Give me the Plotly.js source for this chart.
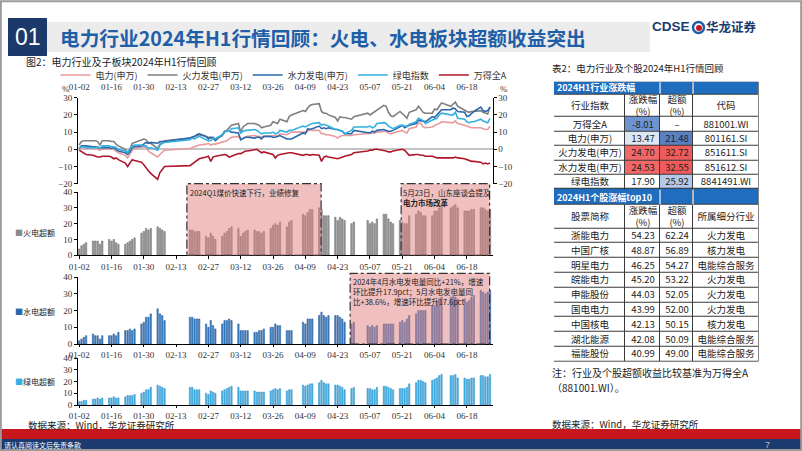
<!DOCTYPE html>
<html>
<head>
<meta charset="utf-8">
<script src="https://cdn.plot.ly/plotly-3.0.1.min.js"></script>
<style>
html,body{margin:0;padding:0;background:#fff;}
#plot{width:802px;height:451px;}
</style>
</head>
<body>
<div id="plot"></div>
<script>
// trading days, H1 2024
var dayStr = [
  '01-02','01-03','01-04','01-05','01-08','01-09','01-10','01-11','01-12',
  '01-15','01-16','01-17','01-18','01-19','01-22','01-23','01-24','01-25','01-26',
  '01-29','01-30','01-31','02-01','02-02','02-05','02-06','02-07','02-08',
  '02-19','02-20','02-21','02-22','02-23','02-26','02-27','02-28','02-29','03-01',
  '03-04','03-05','03-06','03-07','03-08','03-11','03-12','03-13','03-14','03-15',
  '03-18','03-19','03-20','03-21','03-22','03-25','03-26','03-27','03-28','03-29',
  '04-01','04-02','04-03','04-08','04-09','04-10','04-11','04-12',
  '04-15','04-16','04-17','04-18','04-19','04-22','04-23','04-24','04-25','04-26',
  '04-29','04-30','05-06','05-07','05-08','05-09','05-10',
  '05-13','05-14','05-15','05-16','05-17','05-20','05-21','05-22','05-23','05-24',
  '05-27','05-28','05-29','05-30','05-31','06-03','06-04','06-05','06-06','06-07',
  '06-11','06-12','06-13','06-14','06-17','06-18','06-19','06-20','06-21',
  '06-24','06-25','06-26','06-27','06-28'
];
var days = dayStr.map(function (s) { return '2024-' + s; });

// cumulative return, %
var power = [0.5,1,0.5,0.5, 0.5,0.5,0,-0.5,0, 0.5,0,0,-1,-2, -3.5,-5,-3,-0.5,0.5,
  1,1.5,1,-1,-2, -4.5,-3,-1.5,-0.5, 0.5,1,1.5,2,2.5, 3,3.5,2.5,3,3,
  4,4.5,5,6,7, 7.5,6,6.5,7,7.5, 8,7.5,7.5,7,7.5, 7.5,8,8,7.5,9,
  8.5,9.5,10, 10,10,10.5,11.5,11, 11,9,9,8.5,8.5, 7.5,6.5,7.5,8,8,
  8,8.5, 9,9,9.5,9.5,10, 10.5,10.5,9.5,9,9.5, 10.5,11,10,9.5,12,
  13,15.5,15,13,12.5, 13,14,14.5,15,16, 15.5,15.5,16.5,15, 14,13.5,13,12.5,12.5,
  12.5,12,11.5,11.5,13.47];
var thermal = [2.5,4.5,5,5, 5,5,4.5,2.5,5, 5,4.5,4.5,3,2, 0,-2,0,3.5,4,
  5.5,6,5.5,4,3.5, 0.5,3,4,5, 6.5,7,7.5,8,8.5, 7.5,7,6.5,7,6,
  8,10,11,12.5,14, 15,10,13,14,15, 15,14.5,14,12.5,13, 14,16,15.5,15,17.5,
  16,19,20, 22.5,22,24,25.5,26, 26.5,22,21,21,20, 18.5,16.5,19,18.5,18.5,
  17.5,19, 21,20,21,21.5,23, 25.5,25,21.5,19.5,19, 22,21,19.5,18,21.5,
  23,25,23.5,21.5,21, 21,23.5,23,25,27, 25,26,27.5,25, 22.5,22,21.5,22,22,
  22.5,21.5,21,20.5,24.7];
var hydro = [0.5,2,2,2, 1.5,1.5,1,0.5,1, 1,0.5,1,0,-1, -2,-3,-1.5,1,1.5,
  2,3,4,3.5,4, 3.5,4.5,4.5,4.5, 6.5,7,7.5,8.5,9, 7.5,6,7,6.5,5,
  8.5,10.5,10.5,10.5,10, 9.5,5.5,6.5,7,7, 6.5,7,7,6,7.5, 7.5,7,7,7.5,8,
  6,6,6, 9.5,9,12,11.5,12, 13.5,12,12.5,12,12.5, 11.5,11.5,11,10.5,9,
  9,11, 10,9.5,10.5,10,11, 11.5,11,10.5,10.5,11, 13,14,12.5,13.5,14,
  15,17,16.5,16.5,16, 19,18.5,20,22,23, 23,24,23.5,22, 21.5,19,19.5,21,22,
  24.5,22.5,22,22.5,24.53];
var green = [0.5,1.5,1.5,1, 1,1,1.5,0.5,2, 2,1.5,1.5,1,0, -1,-2,0,2,2.5,
  2.5,2,2,0.5,1, -0.5,2.5,3.5,4, 5.5,6.5,6,7,7.5, 5.5,5,5,6.5,6,
  8.5,10,10.5,10.5,12, 12.5,9.5,10.5,11,11, 11.5,11,10,9,9.5, 9.5,10,9,9.5,11,
  10,11,11, 13.5,13,14,14.5,15, 15.5,14,14.5,14,13.5, 11.5,11.5,11,10.5,9,
  11,13, 13,13.5,12.5,13,15, 15.5,15,13.5,12.5,12, 14,14,13.5,13.5,14.5,
  16,18,17.5,16.5,15, 17,17.5,18,20,21, 20,20,21.5,18, 17.5,16,15.5,16,16,
  17.5,16.5,16,15.5,17.9];
var windA = [-0.5,-1.5,-2.5,-3, -3.5,-4,-4.5,-4.5,-4, -4,-4.5,-5.5,-5,-6, -8,-10,-8,-6,-6.5,
  -7.5,-9,-11,-12.5,-14, -17.5,-13.5,-11.5,-10, -9.5,-8.5,-7,-6,-5.5, -4.5,-4,-7,-4.5,-4,
  -3.5,-3,-3.5,-4.5,-4, -2.5,-2.5,-1.5,-1,-1, -0.5,0,-1,-2,-1.5, -2.5,-3,-5,-3.5,-3,
  -2,-2,-2, -3.5,-3,-3,-3.5,-3, -3.5,-7,-4.5,-4,-4.5, -5.5,-5.5,-5,-4.5,-4,
  -3,-2, -1,-0.5,-0.5,0,0, -0.5,-1,-1.5,-1.5,-1, 0,0,-0.5,-2,-3.5,
  -3,-3,-3.5,-3.5,-4, -4,-4.5,-5,-5,-5, -5,-5,-4.5,-5, -5.5,-6,-6.5,-7,-7,
  -7.5,-8.5,-8,-8.5,-8.01];

// excess return vs Wind All A, %
var thermalEx = [4,6,7,8, 9,9,9,7,9, 10,9,10,8,7, 7,8,9,10,11,
  14,15,17,16,17, 18,17,16,15, 16,16,15,15,15, 12,11,14,12,10,
  12,14,15,17,18, 17,12,14,15,16, 16,15,15,14,15, 17,19,20,19,21,
  18,21,22, 26,25,27,29,29, 30,29,25,25,25, 24,22,24,23,22,
  20,21, 22,20,21,20,23, 26,26,23,21,20, 22,21,20,20,25,
  26,28,27,25,25, 25,28,28,30,32, 30,31,32,30, 28,28,28,29,29,
  30,30,29,28,29];
var hydroEx = [2,3,4,5, 6,5,5,3,5, 5,5,6,5,7, 8,8,9,8,9,
  12,13,16,16,18, 21,18,17,14, 16,16,15,15,15, 12,10,14,11,9,
  12,14,14,15,14, 12,8,8,8,8, 7,7,8,8,9, 10,10,12,11,11,
  8,8,8, 13,12,15,15,15, 17,19,17,16,17, 17,17,16,15,13,
  12,13, 11,10,11,10,11, 12,12,12,12,12, 13,14,13,15,17,
  18,20,20,20,20, 23,23,25,27,28, 28,29,28,27, 27,25,26,28,29,
  32,31,30,31,32];
var greenEx = [3,3,4,4, 5,5,6,5,6, 6,6,7,6,6, 7,8,8,8,9,
  10,11,13,13,15, 17,16,15,14, 15,15,13,13,13, 10,9,12,11,10,
  12,13,14,15,16, 15,12,12,12,12, 12,11,11,11,11, 12,13,14,13,14,
  12,13,13, 17,16,17,18,18, 19,21,19,18,18, 17,17,16,15,13,
  14,15, 14,14,13,13,15, 16,16,15,14,13, 14,14,14,15,18,
  19,21,21,20,19, 21,22,23,25,26, 25,25,26,23, 23,22,22,23,23,
  25,25,24,24,26];

// table 2 data
var indNames = ['万得全A', '电力(申万)', '火力发电(申万)', '水力发电(申万)', '绿电指数'];
var indChg = [-8.01, 13.47, 24.70, 24.53, 17.90];
var indEx = [null, 21.48, 32.72, 32.55, 25.92];
var indCode = ['881001.WI', '801161.SI', '851611.SI', '851612.SI', '8841491.WI'];

var stkNames = ['浙能电力', '中国广核', '明星电力', '皖能电力', '申能股份', '国电电力', '中国核电', '湖北能源', '福能股份'];
var stkChg = [54.23, 48.87, 46.25, 45.20, 44.03, 43.99, 42.13, 42.08, 40.99];
var stkEx = [62.24, 56.89, 54.27, 53.22, 52.05, 52.00, 50.15, 50.09, 49.00];
var stkInd = ['火力发电', '核力发电', '电能综合服务', '火力发电', '火力发电', '火力发电', '核力发电', '电能综合服务', '电能综合服务'];

var CJK = 'Noto Sans CJK SC, sans-serif';
var SERIF = 'Liberation Serif, serif';
function X(p) { return p / 802; }
function Y(p) { return 1 - p / 451; }
function fmt(v) { return v === null ? '–' : v.toFixed(2); }

var r0 = '2024-01-01 12:00', r1 = '2024-06-29 02:00';
var DAY = 86400000;

function line(y, name, color, ya) {
  return { x: days, y: y, name: name, type: 'scatter', mode: 'lines',
    line: { color: color, width: 1.6 }, xaxis: 'x', yaxis: ya || 'y', hoverinfo: 'skip' };
}
function bars(y, xa, ya, fill, edge) {
  return { x: days, y: y, type: 'bar', xaxis: xa, yaxis: ya, width: 0.6 * DAY,
    marker: { color: fill, line: { color: edge, width: 0.5 } }, showlegend: false, hoverinfo: 'skip' };
}

// ---- table as a heatmap grid ----
var cellColors = ['#ffffff', '#1f6dbf', '#6d93d0', '#dde6f3', '#f26868', '#5a80c2', '#ef5b5b', '#b7c9e8'];
var chgTone = [2, 3, 4, 4, 0];
var exTone = [0, 5, 6, 6, 7];
var colEdges = [0, 71, 106, 139, 204.5];
var rowH = [12.6, 22.7, 14.4, 14.4, 14.4, 14.4, 14.4, 16, 23.3,
  14.8, 14.8, 14.8, 14.8, 14.8, 14.8, 14.8, 14.8, 14.8];
var rowEdges = [0];
rowH.forEach(function (h) { rowEdges.push(rowEdges[rowEdges.length - 1] + h); });
var tableH = rowEdges[rowEdges.length - 1];
var bandRows = [0, 7];

var tText = [], tTone = [];
tText.push(['', '', '', '']); tTone.push([1, 1, 1, 1]);
tText.push(['行业指数', '涨跌幅<br>(%)', '超额<br>(%)', '代码']); tTone.push([0, 0, 0, 0]);
indNames.forEach(function (n, i) {
  tText.push([n, fmt(indChg[i]), fmt(indEx[i]), indCode[i]]);
  tTone.push([0, chgTone[i], exTone[i], 0]);
});
tText.push(['', '', '', '']); tTone.push([1, 1, 1, 1]);
tText.push(['股票简称', '涨跌幅<br>(%)', '超额<br>(%)', '所属细分行业']); tTone.push([0, 0, 0, 0]);
stkNames.forEach(function (n, i) {
  tText.push([n, fmt(stkChg[i]), fmt(stkEx[i]), stkInd[i]]);
  tTone.push([0, 0, 0, 0]);
});
var toneScale = cellColors.map(function (c, i) { return [i / (cellColors.length - 1), c]; });

var traces = [
  line(power, '电力(申万)', '#e89a9c'),
  line(thermal, '火力发电(申万)', '#7f7f7f'),
  line(hydro, '水力发电(申万)', '#2a68ab'),
  line(green, '绿电指数', '#33b0e0'),
  line(windA, '万得全A', '#b0172c', 'y5'),
  bars(thermalEx, 'x2', 'y2', '#a8a8a8', '#555555'),
  bars(hydroEx, 'x3', 'y3', '#3f8ad0', '#1d4f8f'),
  bars(greenEx, 'x4', 'y4', '#4ab8ea', '#2a8cc4'),
  {
    type: 'heatmap', x: colEdges, y: rowEdges, z: tTone, text: tText, texttemplate: '%{text}',
    textfont: { family: CJK, size: 9.5, color: '#222' },
    colorscale: toneScale, zmin: 0, zmax: cellColors.length - 1, showscale: false,
    xgap: 1, ygap: 1, xaxis: 'x6', yaxis: 'y6', hoverinfo: 'skip', showlegend: false
  }
];

function dateAxis(extra) {
  var a = { type: 'date', domain: [X(78), X(492.5)], range: [r0, r1], tick0: '2024-01-02', dtick: 14 * DAY,
    tickformat: '%m-%d', showgrid: false, zeroline: false, showline: true, linecolor: '#000', linewidth: 1,
    ticks: 'outside', ticklen: 3, tickcolor: '#000', tickfont: { family: SERIF, size: 9, color: '#333' } };
  for (var k in extra) a[k] = extra[k];
  return a;
}
function valAxis(extra) {
  var a = { showgrid: false, zeroline: false, showline: true, linecolor: '#000', linewidth: 1,
    ticks: 'outside', ticklen: 3, tickcolor: '#000', dtick: 10, tickfont: { family: SERIF, size: 9, color: '#333' } };
  for (var k in extra) a[k] = extra[k];
  return a;
}

var boxStyle = { fillcolor: 'rgba(226,128,128,0.5)', line: { color: '#333', width: 1.2, dash: 'dashdot' }, layer: 'above' };
function box(xa, d0, d1, top, bottom) {
  var s = { type: 'rect', xref: xa, yref: 'paper', x0: d0, x1: d1, y0: Y(bottom), y1: Y(top) };
  for (var k in boxStyle) s[k] = boxStyle[k];
  return s;
}

var shapes = [
  { type: 'rect', xref: 'paper', yref: 'paper', x0: X(47), x1: X(650), y0: Y(52), y1: Y(22), fillcolor: '#ececec', line: { width: 0 }, layer: 'below' },
  { type: 'rect', xref: 'paper', yref: 'paper', x0: X(8), x1: X(47), y0: Y(56), y1: Y(18), fillcolor: '#1b3a6b', line: { width: 0 } },
  { type: 'rect', xref: 'paper', yref: 'paper', x0: 0, x1: 1, y0: Y(439), y1: Y(429), fillcolor: '#c8161d', line: { width: 0 } },
  { type: 'rect', xref: 'paper', yref: 'paper', x0: 0, x1: 1, y0: 0, y1: Y(439), fillcolor: '#1b3b6f', line: { width: 0 } },
  { type: 'rect', xref: 'paper', yref: 'paper', x0: 0.001, x1: 0.999, y0: 0.002, y1: 0.997, line: { color: '#9a9a9a', width: 2 } },
  { type: 'circle', xref: 'paper', yref: 'paper', x0: X(693), x1: X(704), y0: Y(33), y1: Y(22), line: { color: '#1f5fa8', width: 2.5 } },
  { type: 'circle', xref: 'paper', yref: 'paper', x0: X(696), x1: X(702), y0: Y(31), y1: Y(25), fillcolor: '#c8161d', line: { width: 0 } },
  // table grid colour shows through the cell gaps
  { type: 'rect', xref: 'x6', yref: 'y6', x0: 0, x1: colEdges[colEdges.length - 1], y0: 0, y1: tableH,
    fillcolor: '#3a3a3a', line: { color: '#3a3a3a', width: 1 }, layer: 'below' },
  // highlight boxes
  box('x2', '2024-02-17 16:00', '2024-04-15 20:00', 183.7, 255.3),
  box('x2', '2024-05-20 12:00', '2024-06-27 20:00', 183.7, 255.3),
  box('x3', '2024-04-28 10:00', '2024-06-27 20:00', 273.3, 344)
];
// band rows: first two columns merged, white dividers for the others
bandRows.forEach(function (r) {
  var y0 = rowEdges[r] + 0.5, y1 = rowEdges[r + 1] - 0.5;
  shapes.push({ type: 'rect', xref: 'x6', yref: 'y6', x0: colEdges[1] - 1.5, x1: colEdges[1] + 1.5, y0: y0, y1: y1,
    fillcolor: cellColors[1], line: { width: 0 }, layer: 'above' });
  [colEdges[2], colEdges[3]].forEach(function (cx) {
    shapes.push({ type: 'line', xref: 'x6', yref: 'y6', x0: cx, x1: cx, y0: y0, y1: y1,
      line: { color: '#ffffff', width: 1.2 }, layer: 'above' });
  });
});

function note(text, px, py, size, extra) {
  var a = { xref: 'paper', yref: 'paper', x: X(px), y: Y(py), text: text, showarrow: false, borderpad: 0,
    xanchor: 'left', yanchor: 'middle', font: { family: CJK, size: size, color: '#222' } };
  for (var k in extra) a[k] = extra[k];
  return a;
}
function boxNote(xa, d, py, text) {
  return { xref: xa, yref: 'paper', x: d, y: Y(py), text: text, showarrow: false, xanchor: 'left', yanchor: 'top',
    align: 'left', borderpad: 0, font: { family: CJK, size: 7.5, color: '#222' } };
}

var annotations = [
  note('01', 27.5, 37, 22, { xanchor: 'center', font: { family: 'Liberation Sans, sans-serif', size: 23, color: '#fff' } }),
  note('<b>电力行业2024年H1行情回顾：火电、水电板块超额收益突出</b>', 59, 37, 19.7, { font: { family: CJK, size: 19.7, color: '#1f5fa8' } }),
  note('<b>CDSE</b>', 651, 27, 13, { font: { family: 'Liberation Sans, sans-serif', size: 13.5, color: '#1b3b6f' } }),
  note('<b>华龙证券</b>', 705, 27, 12.5, { font: { family: CJK, size: 12.5, color: '#1b3b6f' } }),
  note('图2：电力行业及子板块2024年H1行情回顾', 25, 62, 10),
  note('表2：电力行业及个股2024年H1行情回顾', 551, 68, 9.5),
  note('%', 61, 89, 9, { font: { family: SERIF, size: 9, color: '#333' } }),
  note('%', 499, 89, 9, { font: { family: SERIF, size: 9, color: '#333' } }),
  note('<span style="color:#8c8c8c">■</span>火电超额', 14, 232, 8),
  note('<span style="color:#2a68ab">■</span>水电超额', 14, 311, 8),
  note('<span style="color:#33b0e0">■</span>绿电超额', 14, 381, 8),
  boxNote('x2', '2024-02-18 12:00', 185.5, '2024Q1煤价快速下行，业绩修复'),
  boxNote('x2', '2024-05-20 20:00', 185.5, '5月23日，山东座谈会提及<br><b>电力市场改革</b>'),
  boxNote('x3', '2024-04-29 00:00', 275, '2024年4月水电发电量同比+21%，增速<br>环比提升17.9pct；5月水电发电量同<br>比+38.6%，增速环比提升17.6pct'),
  note('<b>2024H1行业涨跌幅</b>', 556, 88, 9, { font: { family: CJK, size: 9, color: '#fff' } }),
  note('<b>2024H1个股涨幅top10</b>', 556, 197.5, 9, { font: { family: CJK, size: 9, color: '#fff' } }),
  note('注：行业及个股超额收益比较基准为万得全A', 551, 372.5, 10),
  note('（881001.WI）。', 551, 387, 10),
  note('数据来源：Wind，华龙证券研究所', 27, 424.5, 9.5),
  note('数据来源：Wind，华龙证券研究所', 551, 424, 9.5),
  note('请认真阅读文后免责条款', 3, 445, 7, { font: { family: CJK, size: 7, color: '#fff' } }),
  note('7', 764, 445, 9, { font: { family: 'Liberation Sans, sans-serif', size: 9, color: '#bbbbbb' } })
];

var layout = {
  width: 802, height: 451, margin: { l: 0, r: 0, t: 0, b: 0 },
  paper_bgcolor: '#ffffff', plot_bgcolor: 'rgba(0,0,0,0)',
  font: { family: CJK, size: 9, color: '#222' },
  showlegend: true,
  legend: { orientation: 'h', x: X(284), xanchor: 'center', y: Y(75), yanchor: 'middle',
    font: { family: CJK, size: 9, color: '#333' }, bgcolor: 'rgba(0,0,0,0)', itemwidth: 30, traceorder: 'normal' },
  xaxis: dateAxis({ anchor: 'y', side: 'top', showline: false, ticks: 'outside', tickcolor: 'rgba(0,0,0,0)' }),
  yaxis: valAxis({ domain: [Y(183.7), Y(97.7)], range: [-20, 30], anchor: 'x',
    zeroline: true, zerolinecolor: '#c4c4c4', zerolinewidth: 2 }),
  yaxis5: valAxis({ overlaying: 'y', side: 'right', anchor: 'x', range: [-20, 30] }),
  xaxis2: dateAxis({ anchor: 'y2' }),
  yaxis2: valAxis({ domain: [Y(255.3), Y(192)], range: [0, 40], anchor: 'x2' }),
  xaxis3: dateAxis({ anchor: 'y3', ticklen: 2 }),
  yaxis3: valAxis({ domain: [Y(344), Y(277)], range: [0, 40], anchor: 'x3' }),
  xaxis4: dateAxis({ anchor: 'y4', ticklen: 2 }),
  yaxis4: valAxis({ domain: [Y(405), Y(358)], range: [0, 40], anchor: 'x4' }),
  xaxis6: { domain: [X(554), X(758.5)], range: [0, colEdges[colEdges.length - 1]], anchor: 'y6', visible: false, fixedrange: true },
  yaxis6: { domain: [Y(81.7 + tableH), Y(81.7)], range: [tableH, 0], anchor: 'x6', visible: false, fixedrange: true },
  shapes: shapes,
  annotations: annotations
};

Plotly.newPlot('plot', traces, layout, { displayModeBar: false, staticPlot: true });
</script>
</body>
</html>
